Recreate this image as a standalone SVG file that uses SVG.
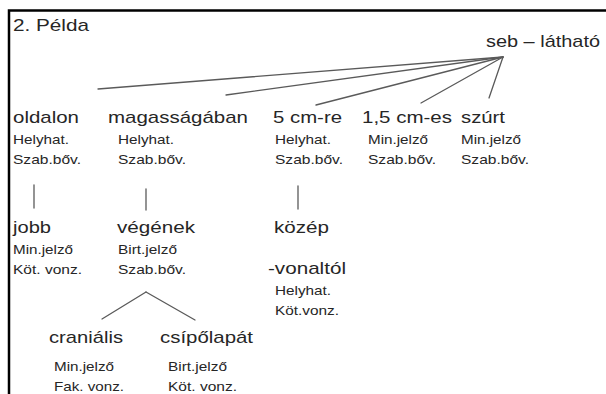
<svg xmlns="http://www.w3.org/2000/svg" width="606" height="394" viewBox="0 0 606 394">
<style>
  text { font-family: "Liberation Sans", Arial, sans-serif; fill: #262626; }
  .big { font-size: 16.4px; }
  .small { font-size: 13.2px; }
  .frame { stroke: #000; stroke-width: 2.5; fill: none; }
  .edge { stroke: #5a5a5a; stroke-width: 1.3; fill: none; stroke-linecap: round; }
</style>
<rect width="606" height="394" fill="#fff"/>
<path class="frame" d="M9,394 V10.5 H606"/>

<g id="title"><text class="big" x="13" y="31" font-size="16.8" textLength="76" lengthAdjust="spacingAndGlyphs">2. Példa</text></g>

<g id="connectors">
  <line class="edge" x1="503" y1="57" x2="98" y2="89"/>
  <line class="edge" x1="503" y1="57" x2="226" y2="95"/>
  <line class="edge" x1="503" y1="57" x2="316" y2="105"/>
  <line class="edge" x1="503" y1="57" x2="421" y2="103"/>
  <line class="edge" x1="503" y1="57" x2="489" y2="98"/>
  <line class="edge" x1="34" y1="185" x2="34" y2="208"/>
  <line class="edge" x1="146" y1="189" x2="146" y2="210"/>
  <line class="edge" x1="298" y1="186" x2="298" y2="209"/>
  <line class="edge" x1="146" y1="292" x2="102" y2="319"/>
  <line class="edge" x1="146" y1="292" x2="195" y2="320"/>
</g>

<g id="seb">
  <text class="big" x="486" y="47" textLength="114" lengthAdjust="spacingAndGlyphs">seb – látható</text>
</g>

<g id="oldalon">
  <text class="big" x="13" y="122.5" textLength="66" lengthAdjust="spacingAndGlyphs">oldalon</text>
  <text class="small" x="13" y="143.5" textLength="56" lengthAdjust="spacingAndGlyphs">Helyhat.</text>
  <text class="small" x="13" y="163.5" textLength="68" lengthAdjust="spacingAndGlyphs">Szab.bőv.</text>
</g>

<g id="magassagaban">
  <text class="big" x="108" y="122.5" textLength="140" lengthAdjust="spacingAndGlyphs">magasságában</text>
  <text class="small" x="118" y="143.5" textLength="56" lengthAdjust="spacingAndGlyphs">Helyhat.</text>
  <text class="small" x="118" y="163.5" textLength="68" lengthAdjust="spacingAndGlyphs">Szab.bőv.</text>
</g>

<g id="5cmre">
  <text class="big" x="273" y="122.5" textLength="69" lengthAdjust="spacingAndGlyphs">5 cm-re</text>
  <text class="small" x="275" y="143.5" textLength="56" lengthAdjust="spacingAndGlyphs">Helyhat.</text>
  <text class="small" x="275" y="163.5" textLength="68" lengthAdjust="spacingAndGlyphs">Szab.bőv.</text>
</g>

<g id="15cmes">
  <text class="big" x="362" y="122.5" textLength="90" lengthAdjust="spacingAndGlyphs">1,5 cm-es</text>
  <text class="small" x="368" y="143.5" textLength="60" lengthAdjust="spacingAndGlyphs">Min.jelző</text>
  <text class="small" x="368" y="163.5" textLength="68" lengthAdjust="spacingAndGlyphs">Szab.bőv.</text>
</g>

<g id="szurt">
  <text class="big" x="461" y="122.5" textLength="44" lengthAdjust="spacingAndGlyphs">szúrt</text>
  <text class="small" x="461" y="143.5" textLength="60" lengthAdjust="spacingAndGlyphs">Min.jelző</text>
  <text class="small" x="461" y="163.5" textLength="68" lengthAdjust="spacingAndGlyphs">Szab.bőv.</text>
</g>

<g id="jobb">
  <text class="big" x="13" y="232.5" textLength="38" lengthAdjust="spacingAndGlyphs">jobb</text>
  <text class="small" x="13" y="253.5" textLength="60" lengthAdjust="spacingAndGlyphs">Min.jelző</text>
  <text class="small" x="13" y="273.5" textLength="69" lengthAdjust="spacingAndGlyphs">Köt. vonz.</text>
</g>

<g id="vegenek">
  <text class="big" x="117" y="232.5" textLength="78" lengthAdjust="spacingAndGlyphs">végének</text>
  <text class="small" x="118" y="253.5" textLength="59" lengthAdjust="spacingAndGlyphs">Birt.jelző</text>
  <text class="small" x="118" y="273.5" textLength="68" lengthAdjust="spacingAndGlyphs">Szab.bőv.</text>
</g>

<g id="kozep">
  <text class="big" x="274" y="232.5" textLength="55" lengthAdjust="spacingAndGlyphs">közép</text>
</g>

<g id="vonaltol">
  <text class="big" x="268" y="273.5" textLength="78" lengthAdjust="spacingAndGlyphs">-vonaltól</text>
  <text class="small" x="275" y="294.5" textLength="56" lengthAdjust="spacingAndGlyphs">Helyhat.</text>
  <text class="small" x="275" y="314.5" textLength="64" lengthAdjust="spacingAndGlyphs">Köt.vonz.</text>
</g>

<g id="cranialis">
  <text class="big" x="49" y="343" textLength="74" lengthAdjust="spacingAndGlyphs">craniális</text>
  <text class="small" x="54" y="371" textLength="60" lengthAdjust="spacingAndGlyphs">Min.jelző</text>
  <text class="small" x="54" y="391" textLength="70" lengthAdjust="spacingAndGlyphs">Fak. vonz.</text>
</g>

<g id="csipolapat">
  <text class="big" x="160" y="343" textLength="93" lengthAdjust="spacingAndGlyphs">csípőlapát</text>
  <text class="small" x="168" y="371" textLength="59" lengthAdjust="spacingAndGlyphs">Birt.jelző</text>
  <text class="small" x="168" y="391" textLength="69" lengthAdjust="spacingAndGlyphs">Köt. vonz.</text>
</g>
</svg>
